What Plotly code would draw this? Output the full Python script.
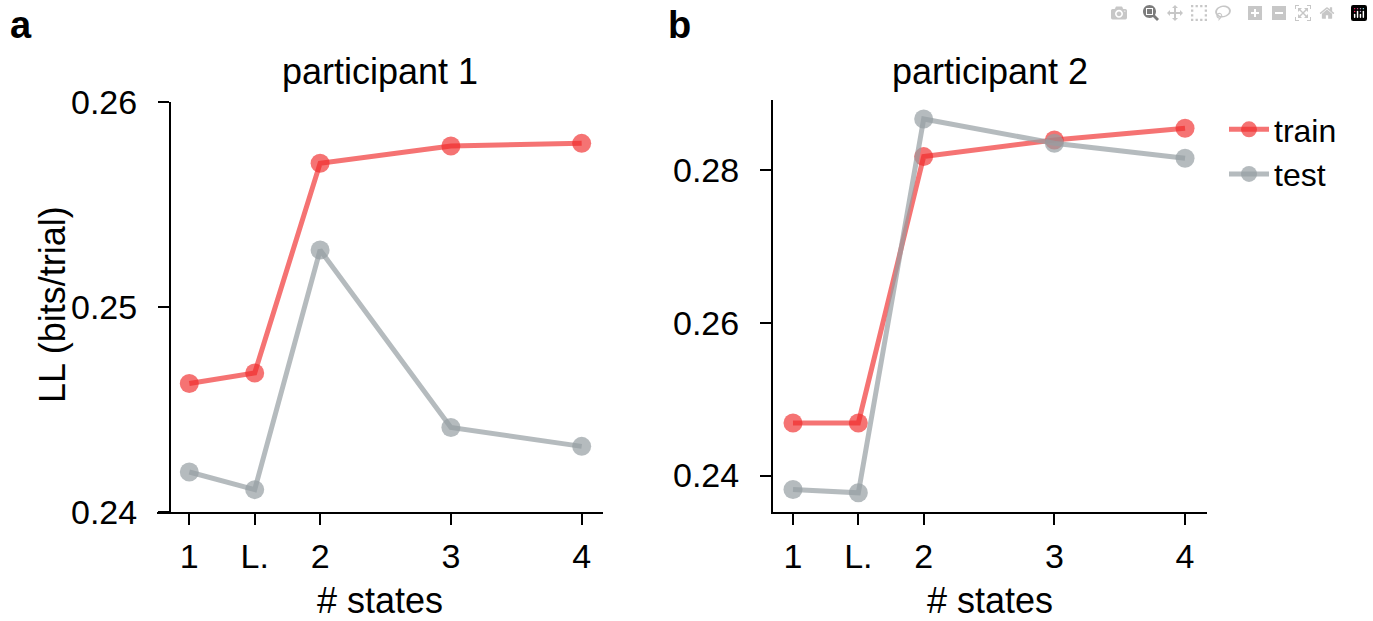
import plotly.graph_objects as go

# ---- data ----
x_pos = [1, 1.5, 2, 3, 4]
x_labels = ["1", "L.", "2", "3", "4"]

p1_train = [0.24626, 0.24678, 0.25700, 0.25784, 0.25797]
p1_test = [0.24195, 0.24109, 0.25277, 0.24412, 0.24320]

p2_train = [0.24689, 0.24689, 0.28174, 0.28392, 0.28545]
p2_test = [0.23817, 0.23774, 0.28667, 0.28349, 0.28153]

p1_yticks = [0.24, 0.25, 0.26]
p2_yticks = [0.24, 0.26, 0.28]

titles = ["participant 1", "participant 2"]
panel_labels = ["a", "b"]

# ---- style ----
W, H = 1373, 621
FONT = "Liberation Sans, Arial, Helvetica, sans-serif"
RED_L = "rgba(240,40,40,0.65)"
GRAY_L = "rgba(150,158,162,0.7)"

def px_x(p):
    return p / W

def px_y(p):
    return 1 - p / H

fig = go.Figure()

series = [
    ("train", RED_L, p1_train, p2_train),
    ("test", GRAY_L, p1_test, p2_test),
]
for name, col, v1, v2 in series:
    fig.add_trace(go.Scatter(
        x=x_pos, y=v1, name=name, mode="lines+markers",
        line=dict(color=col, width=5),
        marker=dict(color=col, size=19, line=dict(width=0)),
        xaxis="x", yaxis="y", showlegend=False))
    fig.add_trace(go.Scatter(
        x=x_pos, y=v2, name=name, mode="lines+markers",
        line=dict(color=col, width=5),
        marker=dict(color=col, size=19, line=dict(width=0)),
        xaxis="x2", yaxis="y2", showlegend=True))

axis_common = dict(
    showline=True, linecolor="black", linewidth=2,
    ticks="outside", ticklen=11, tickwidth=2, tickcolor="black",
    showgrid=False, zeroline=False, automargin=False,
    tickfont=dict(family=FONT, size=34, color="black"),
)

fig.update_layout(
    template="none",
    width=W, height=H,
    margin=dict(l=0, r=0, t=0, b=0, pad=0),
    paper_bgcolor="white", plot_bgcolor="white",
    font=dict(family=FONT, color="black"),
    xaxis=dict(domain=[px_x(157), px_x(603)], range=[0.753, 4.163],
               anchor="y", tickmode="array", tickvals=x_pos, ticktext=x_labels,
               ticklabelstandoff=2, **axis_common),
    yaxis=dict(domain=[px_y(512), px_y(101.7)], range=[0.24, 0.26],
               anchor="free", position=px_x(170),
               tickmode="array", tickvals=p1_yticks, ticklabelstandoff=14,
               ticktext=[f"{v:.2f}" for v in p1_yticks], **axis_common),
    xaxis2=dict(domain=[px_x(773), px_x(1207)], range=[0.847, 4.168],
                anchor="y2", tickmode="array", tickvals=x_pos, ticktext=x_labels,
                ticklabelstandoff=2, **axis_common),
    yaxis2=dict(domain=[px_y(512), px_y(100)], range=[0.23523, 0.28915],
                anchor="x2", tickmode="array", tickvals=p2_yticks,
                ticklabelstandoff=14,
                ticktext=[f"{v:.2f}" for v in p2_yticks], **axis_common),
    legend=dict(x=px_x(1224), y=px_y(102), xanchor="left", yanchor="top",
                font=dict(family=FONT, size=32, color="black"),
                bgcolor="rgba(0,0,0,0)", tracegroupgap=0,
                itemwidth=40),
)

ann = []
for i, (t, lab) in enumerate(zip(titles, panel_labels)):
    xr = "x domain" if i == 0 else "x2 domain"
    ann.append(dict(text=t, xref=xr, yref="paper", x=0.5, y=px_y(72),
                    xanchor="center", yanchor="middle", showarrow=False,
                    font=dict(family=FONT, size=36, color="black")))
    ann.append(dict(text="# states", xref=xr, yref="paper", x=0.5, y=px_y(600),
                    xanchor="center", yanchor="middle", showarrow=False,
                    font=dict(family=FONT, size=36, color="black")))
    ann.append(dict(text=f"<b>{lab}</b>", xref="paper", yref="paper",
                    x=px_x(8 if i == 0 else 666), y=px_y(25),
                    xanchor="left", yanchor="middle", showarrow=False,
                    font=dict(family=FONT, size=38, color="black")))
ann.append(dict(text="LL (bits/trial)", xref="paper", yref="paper",
                x=px_x(52), y=px_y(305), textangle=-90,
                xanchor="center", yanchor="middle", showarrow=False,
                font=dict(family=FONT, size=36, color="black")))
fig.update_layout(annotations=ann)

fig.write_html("out.html", post_script="document.body.style.margin='0';")
